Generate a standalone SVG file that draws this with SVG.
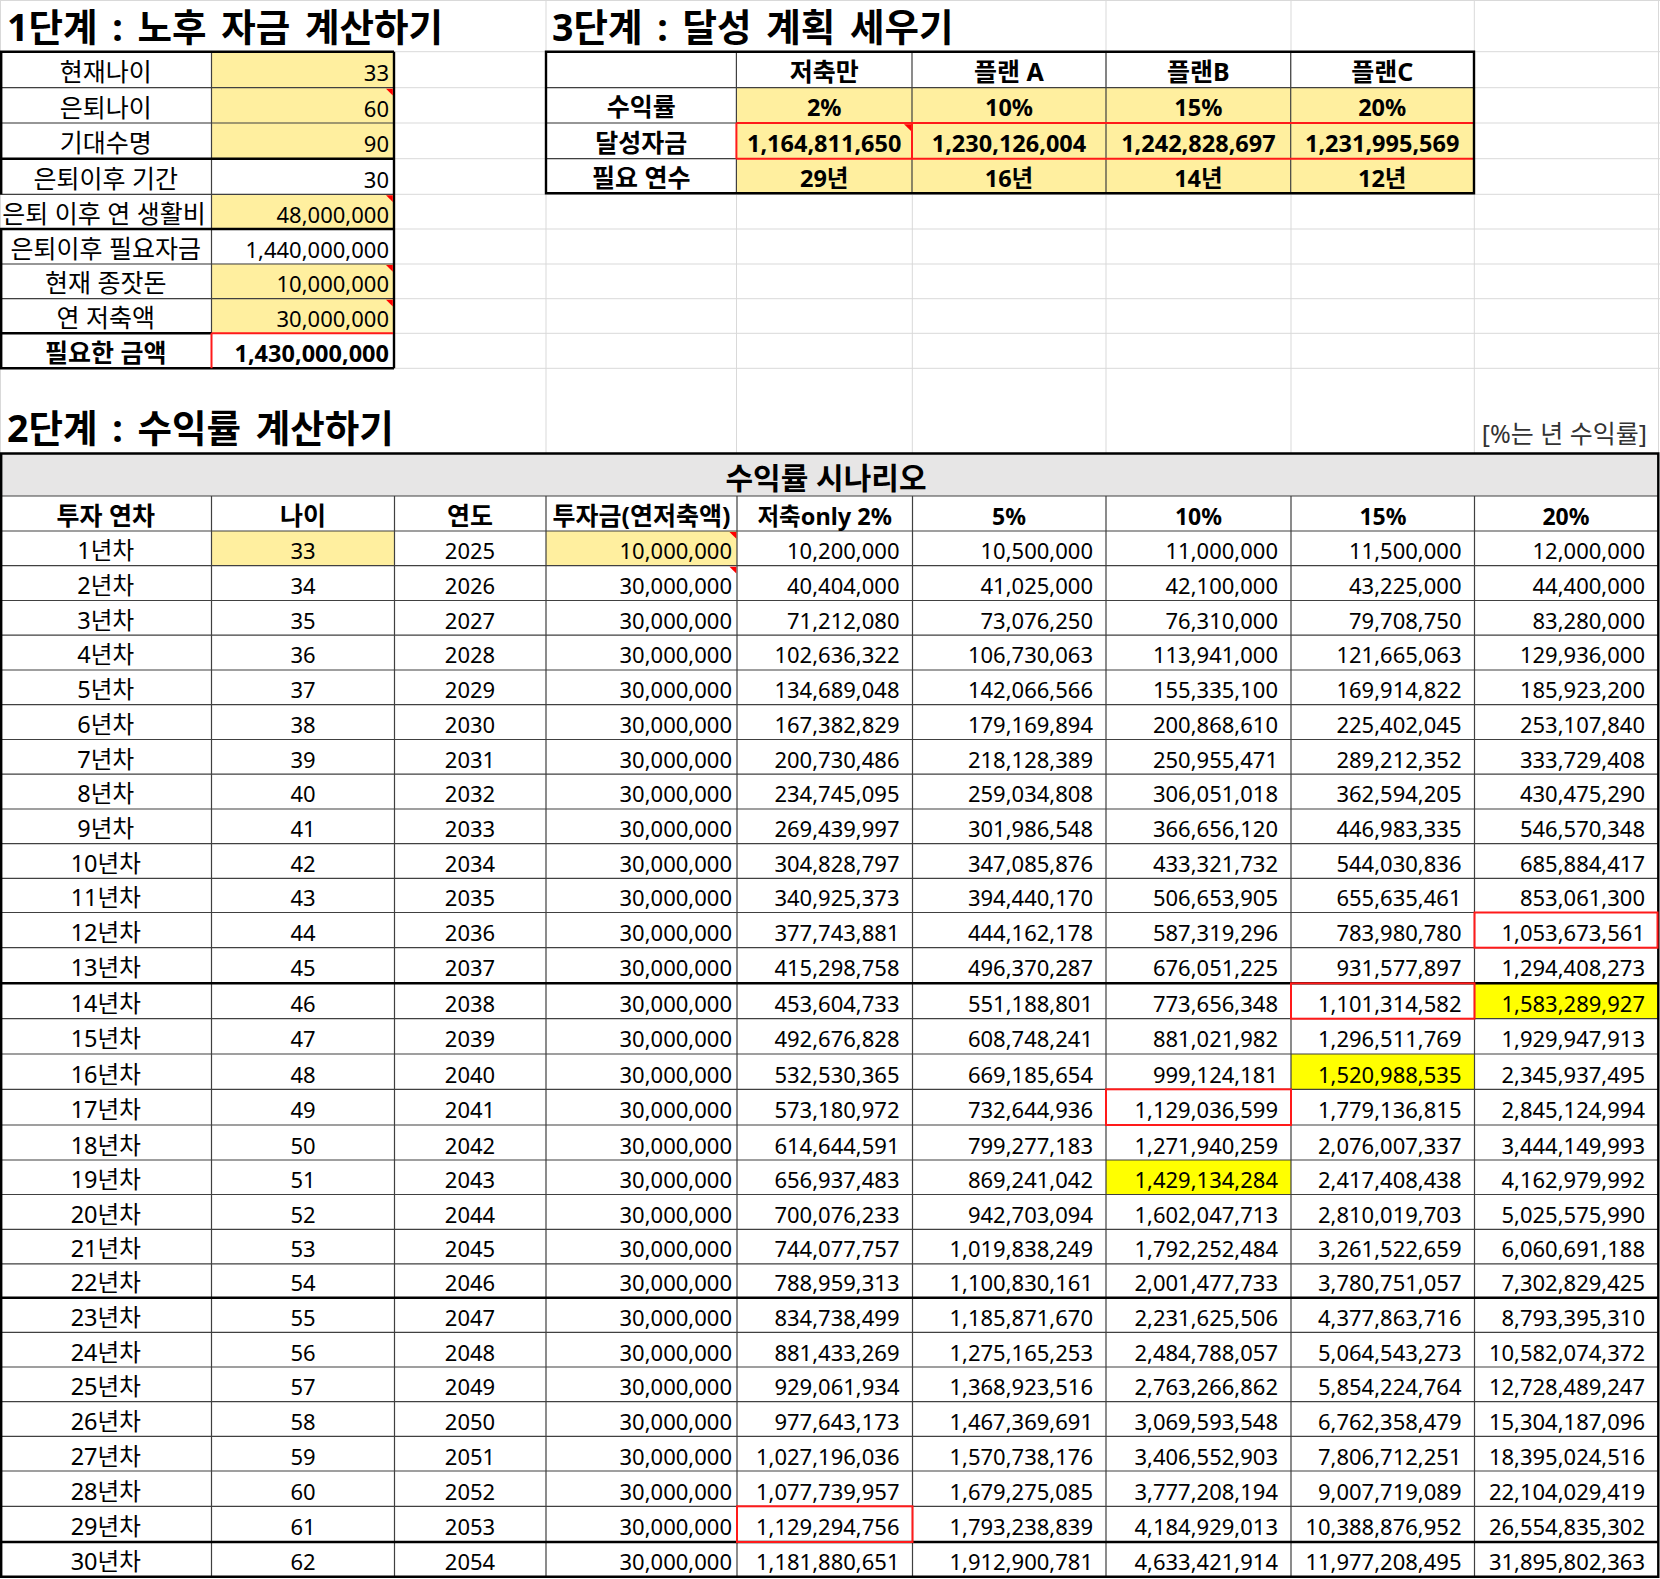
<svg xmlns="http://www.w3.org/2000/svg" width="1660" height="1579" viewBox="0 0 1660 1579">
<style>
text{font-family:"Noto Sans","Noto Sans CJK KR",sans-serif;fill:#000}
.n{font-size:22px}
.k{font-size:23.5px}
.k1{font-size:25px}
.kb{font-size:25px;font-weight:bold}
.hb{font-size:25px;font-weight:bold}
.t3{font-size:23.5px;font-weight:bold}
.t3k{font-size:25px;font-weight:bold}
.ttl{font-size:37.5px;font-weight:bold;word-spacing:5px}
.c{text-anchor:middle}
.r{text-anchor:end}
.g{stroke:#d9d9d9;stroke-width:1;fill:none}
.th{stroke:#404040;stroke-width:1.2;fill:none}
.tk{stroke:#000;stroke-width:2.4;fill:none}
.rd{stroke:#ff1a1a;stroke-width:2;fill:none}
.y{fill:#ffef9f}
.yy{fill:#ffff00}
.tri{fill:#ff0000}
</style>
<rect x="0" y="0" width="1660" height="1579" fill="#fff"/>

<g id="gridlines">
<path class="g" d="M0 0.5H1660M0 51.7H1660M0 87.7H1660M0 123H1660M0 158.7H1660M0 194.3H1660M0 229H1660M0 264H1660M0 298.7H1660M0 333.3H1660M0 368.3H1660"/>
<path class="g" d="M0.5 0V453M546 0V453M736.5 193V453M912.3 193V453M1106 0V453M1291 0V453M1474.3 0V453M1658.5 0V453"/>
</g>

<g id="fills">
<rect class="y" x="211.5" y="51.7" width="182.5" height="107"/>
<rect class="y" x="211.5" y="194.3" width="182.5" height="34.7"/>
<rect class="y" x="211.5" y="264" width="182.5" height="69.3"/>
<rect class="y" x="736.4" y="87.7" width="737.6" height="105.6"/>
<rect x="0" y="453" width="1658" height="43" fill="#e7e6e6"/>
<rect class="y" x="211.5" y="531" width="183" height="34.7"/>
<rect class="y" x="546" y="531" width="191" height="34.7"/>
<rect class="yy" x="1474.5" y="983.3" width="183.5" height="35.4"/>
<rect class="yy" x="1291" y="1054" width="183.5" height="35.3"/>
<rect class="yy" x="1106" y="1160" width="185" height="34.5"/>
</g>

<g id="connectors">
<path class="th" d="M0 87.7H394M0 123H394M0 194.3H394M0 264H394M0 298.7H394M211.5 51.7V333.3"/>
<path class="tk" d="M0 51.7H394M0 158.7H394M0 229H394M0 333.3H211.5M0 368.3H394M394 51.7V368.3M1.2 51.7V194.3M1.2 229V368.3"/>
<path class="rd" d="M211.5 333.3V368.3M211.5 333.3H393"/>
<path class="th" d="M546 87.7H1474M546 123H736.4M546 158.7H736.4M736.4 51.7V123M736.4 158.7V193.3M912 51.7V123M912 158.7V193.3M1106 51.7V193.3M1290.7 51.7V193.3"/>
<path class="rd" d="M736.4 123H1474M736.4 158.7H1474M736.4 123V158.7M912 123V158.7"/>
<path class="tk" d="M546 51.7H1474V193.3H546Z"/>
<path class="th" d="M0 496H1658M0 531H1658M0 565.7H1658M0 600.5H1658M0 635.2H1658M0 670H1658M0 704.7H1658M0 739.5H1658M0 774.2H1658M0 809H1658M0 843.7H1658M0 878.3H1658M0 912.5H1658M0 947.7H1658M0 1018.7H1658M0 1054H1658M0 1089.3H1658M0 1125H1658M0 1160H1658M0 1194.5H1658M0 1229.3H1658M0 1263.8H1658M0 1332.3H1658M0 1367H1658M0 1401.7H1658M0 1436.3H1658M0 1471H1658M0 1506.3H1658"/>
<path class="th" d="M211.5 496V1577M394.5 496V1577M546 496V1577M737 496V1577M912.5 496V1577M1106 496V1577M1291 496V1577M1474.5 496V1577"/>
<path class="tk" d="M0 983.3H1658M0 1297.7H1658M0 1542H1658"/>
<path class="tk" d="M1.2 453.5H1658.3V1576.8H1.2Z"/>
<rect class="rd" x="1474.5" y="912.5" width="183" height="35.2"/>
<rect class="rd" x="1291" y="983.3" width="183.5" height="35.4"/>
<rect class="rd" x="1106" y="1089.3" width="185" height="35.7"/>
<rect class="rd" x="737" y="1506.3" width="175.5" height="35.7"/>
</g>

<g id="comment-marks">
<polygon class="tri" points="386,88.7 392.8,88.7 392.8,95.5"/>
<polygon class="tri" points="386,195.3 392.8,195.3 392.8,202"/>
<polygon class="tri" points="386,265 392.8,265 392.8,271.8"/>
<polygon class="tri" points="386,299.7 392.8,299.7 392.8,306.5"/>
<polygon class="tri" points="904,124.2 911,124.2 911,131"/>
<polygon class="tri" points="729.5,532 736.3,532 736.3,538.8"/>
<polygon class="tri" points="729.5,566.7 736.3,566.7 736.3,573.5"/>
</g>

<g id="title-1"><text class="ttl" x="7" y="41">1단계 : 노후 자금 계산하기</text></g>
<g id="title-3"><text class="ttl" x="552" y="41">3단계 : 달성 계획 세우기</text></g>
<g id="title-2"><text class="ttl" x="7" y="442">2단계 : 수익률 계산하기</text></g>
<g id="note"><text class="k1 r" x="1647" y="443" style="fill:#333">[%는 년 수익률]</text></g>

<g id="table-1">
<text class="k1 c" x="105.7" y="81.2">현재나이</text><text class="n r" x="389" y="81.2">33</text>
<text class="k1 c" x="105.7" y="116.5">은퇴나이</text><text class="n r" x="389" y="116.5">60</text>
<text class="k1 c" x="105.7" y="152.2">기대수명</text><text class="n r" x="389" y="152.2">90</text>
<text class="k1 c" x="105.7" y="187.8">은퇴이후 기간</text><text class="n r" x="389" y="187.8">30</text>
<text class="k1 c" x="104" y="222.5">은퇴 이후 연 생활비</text><text class="n r" x="389" y="222.5">48,000,000</text>
<text class="k1 c" x="105.7" y="257.5">은퇴이후 필요자금</text><text class="n r" x="389" y="257.5">1,440,000,000</text>
<text class="k1 c" x="105.7" y="292.2">현재 종잣돈</text><text class="n r" x="389" y="292.2">10,000,000</text>
<text class="k1 c" x="105.7" y="326.8">연 저축액</text><text class="n r" x="389" y="326.8">30,000,000</text>
<text class="kb c" x="105.7" y="361.8">필요한 금액</text><text class="t3 r" x="389" y="361.8">1,430,000,000</text>
</g>

<g id="table-3">
<text class="t3k c" x="824.2" y="80.7">저축만</text>
<text class="t3k c" x="1009" y="80.7">플랜 A</text>
<text class="t3k c" x="1198.4" y="80.7">플랜B</text>
<text class="t3k c" x="1382.2" y="80.7">플랜C</text>
<text class="t3k c" x="641.2" y="116">수익률</text>
<text class="t3 c" x="824.2" y="116">2%</text>
<text class="t3 c" x="1009" y="116">10%</text>
<text class="t3 c" x="1198.4" y="116">15%</text>
<text class="t3 c" x="1382.2" y="116">20%</text>
<text class="t3k c" x="641.2" y="151.7">달성자금</text>
<text class="t3 c" x="824.2" y="151.7">1,164,811,650</text>
<text class="t3 c" x="1009" y="151.7">1,230,126,004</text>
<text class="t3 c" x="1198.4" y="151.7">1,242,828,697</text>
<text class="t3 c" x="1382.2" y="151.7">1,231,995,569</text>
<text class="t3k c" x="641.2" y="186.5">필요 연수</text>
<text class="t3 c" x="824.2" y="186.5">29년</text>
<text class="t3 c" x="1009" y="186.5">16년</text>
<text class="t3 c" x="1198.4" y="186.5">14년</text>
<text class="t3 c" x="1382.2" y="186.5">12년</text>
</g>

<g id="table-2-header">
<text class="c" x="826" y="488.5" style="font-size:30px;font-weight:bold">수익률 시나리오</text>
<text class="hb c" x="105.7" y="524.5">투자 연차</text>
<text class="hb c" x="303" y="524.5">나이</text>
<text class="hb c" x="470" y="524.5">연도</text>
<text class="hb c" x="641.5" y="524.5">투자금(연저축액)</text>
<text class="hb c" x="824.7" y="524.5" style="font-size:23.5px">저축only 2%</text>
<text class="hb c" x="1009" y="524.5" style="font-size:23px">5%</text>
<text class="hb c" x="1198.5" y="524.5" style="font-size:23px">10%</text>
<text class="hb c" x="1383" y="524.5" style="font-size:23px">15%</text>
<text class="hb c" x="1566" y="524.5" style="font-size:23px">20%</text>
</g>

<g id="row-1" transform="translate(0,531)"><text class="k c" x="105.7" y="28">1년차</text><text class="n c" x="303" y="28">33</text><text class="n c" x="470" y="28">2025</text><text class="n r" x="732" y="28">10,000,000</text><text class="n r" x="899.5" y="28">10,200,000</text><text class="n r" x="1093" y="28">10,500,000</text><text class="n r" x="1278" y="28">11,000,000</text><text class="n r" x="1461.5" y="28">11,500,000</text><text class="n r" x="1645" y="28">12,000,000</text></g>
<g id="row-2" transform="translate(0,565.7)"><text class="k c" x="105.7" y="28">2년차</text><text class="n c" x="303" y="28">34</text><text class="n c" x="470" y="28">2026</text><text class="n r" x="732" y="28">30,000,000</text><text class="n r" x="899.5" y="28">40,404,000</text><text class="n r" x="1093" y="28">41,025,000</text><text class="n r" x="1278" y="28">42,100,000</text><text class="n r" x="1461.5" y="28">43,225,000</text><text class="n r" x="1645" y="28">44,400,000</text></g>
<g id="row-3" transform="translate(0,600.5)"><text class="k c" x="105.7" y="28">3년차</text><text class="n c" x="303" y="28">35</text><text class="n c" x="470" y="28">2027</text><text class="n r" x="732" y="28">30,000,000</text><text class="n r" x="899.5" y="28">71,212,080</text><text class="n r" x="1093" y="28">73,076,250</text><text class="n r" x="1278" y="28">76,310,000</text><text class="n r" x="1461.5" y="28">79,708,750</text><text class="n r" x="1645" y="28">83,280,000</text></g>
<g id="row-4" transform="translate(0,635.2)"><text class="k c" x="105.7" y="28">4년차</text><text class="n c" x="303" y="28">36</text><text class="n c" x="470" y="28">2028</text><text class="n r" x="732" y="28">30,000,000</text><text class="n r" x="899.5" y="28">102,636,322</text><text class="n r" x="1093" y="28">106,730,063</text><text class="n r" x="1278" y="28">113,941,000</text><text class="n r" x="1461.5" y="28">121,665,063</text><text class="n r" x="1645" y="28">129,936,000</text></g>
<g id="row-5" transform="translate(0,670)"><text class="k c" x="105.7" y="28">5년차</text><text class="n c" x="303" y="28">37</text><text class="n c" x="470" y="28">2029</text><text class="n r" x="732" y="28">30,000,000</text><text class="n r" x="899.5" y="28">134,689,048</text><text class="n r" x="1093" y="28">142,066,566</text><text class="n r" x="1278" y="28">155,335,100</text><text class="n r" x="1461.5" y="28">169,914,822</text><text class="n r" x="1645" y="28">185,923,200</text></g>
<g id="row-6" transform="translate(0,704.7)"><text class="k c" x="105.7" y="28">6년차</text><text class="n c" x="303" y="28">38</text><text class="n c" x="470" y="28">2030</text><text class="n r" x="732" y="28">30,000,000</text><text class="n r" x="899.5" y="28">167,382,829</text><text class="n r" x="1093" y="28">179,169,894</text><text class="n r" x="1278" y="28">200,868,610</text><text class="n r" x="1461.5" y="28">225,402,045</text><text class="n r" x="1645" y="28">253,107,840</text></g>
<g id="row-7" transform="translate(0,739.5)"><text class="k c" x="105.7" y="28">7년차</text><text class="n c" x="303" y="28">39</text><text class="n c" x="470" y="28">2031</text><text class="n r" x="732" y="28">30,000,000</text><text class="n r" x="899.5" y="28">200,730,486</text><text class="n r" x="1093" y="28">218,128,389</text><text class="n r" x="1278" y="28">250,955,471</text><text class="n r" x="1461.5" y="28">289,212,352</text><text class="n r" x="1645" y="28">333,729,408</text></g>
<g id="row-8" transform="translate(0,774.2)"><text class="k c" x="105.7" y="28">8년차</text><text class="n c" x="303" y="28">40</text><text class="n c" x="470" y="28">2032</text><text class="n r" x="732" y="28">30,000,000</text><text class="n r" x="899.5" y="28">234,745,095</text><text class="n r" x="1093" y="28">259,034,808</text><text class="n r" x="1278" y="28">306,051,018</text><text class="n r" x="1461.5" y="28">362,594,205</text><text class="n r" x="1645" y="28">430,475,290</text></g>
<g id="row-9" transform="translate(0,809)"><text class="k c" x="105.7" y="28">9년차</text><text class="n c" x="303" y="28">41</text><text class="n c" x="470" y="28">2033</text><text class="n r" x="732" y="28">30,000,000</text><text class="n r" x="899.5" y="28">269,439,997</text><text class="n r" x="1093" y="28">301,986,548</text><text class="n r" x="1278" y="28">366,656,120</text><text class="n r" x="1461.5" y="28">446,983,335</text><text class="n r" x="1645" y="28">546,570,348</text></g>
<g id="row-10" transform="translate(0,843.7)"><text class="k c" x="105.7" y="28">10년차</text><text class="n c" x="303" y="28">42</text><text class="n c" x="470" y="28">2034</text><text class="n r" x="732" y="28">30,000,000</text><text class="n r" x="899.5" y="28">304,828,797</text><text class="n r" x="1093" y="28">347,085,876</text><text class="n r" x="1278" y="28">433,321,732</text><text class="n r" x="1461.5" y="28">544,030,836</text><text class="n r" x="1645" y="28">685,884,417</text></g>
<g id="row-11" transform="translate(0,878.3)"><text class="k c" x="105.7" y="28">11년차</text><text class="n c" x="303" y="28">43</text><text class="n c" x="470" y="28">2035</text><text class="n r" x="732" y="28">30,000,000</text><text class="n r" x="899.5" y="28">340,925,373</text><text class="n r" x="1093" y="28">394,440,170</text><text class="n r" x="1278" y="28">506,653,905</text><text class="n r" x="1461.5" y="28">655,635,461</text><text class="n r" x="1645" y="28">853,061,300</text></g>
<g id="row-12" transform="translate(0,912.5)"><text class="k c" x="105.7" y="28.5">12년차</text><text class="n c" x="303" y="28.5">44</text><text class="n c" x="470" y="28.5">2036</text><text class="n r" x="732" y="28.5">30,000,000</text><text class="n r" x="899.5" y="28.5">377,743,881</text><text class="n r" x="1093" y="28.5">444,162,178</text><text class="n r" x="1278" y="28.5">587,319,296</text><text class="n r" x="1461.5" y="28.5">783,980,780</text><text class="n r" x="1645" y="28.5">1,053,673,561</text></g>
<g id="row-13" transform="translate(0,947.7)"><text class="k c" x="105.7" y="28.5">13년차</text><text class="n c" x="303" y="28.5">45</text><text class="n c" x="470" y="28.5">2037</text><text class="n r" x="732" y="28.5">30,000,000</text><text class="n r" x="899.5" y="28.5">415,298,758</text><text class="n r" x="1093" y="28.5">496,370,287</text><text class="n r" x="1278" y="28.5">676,051,225</text><text class="n r" x="1461.5" y="28.5">931,577,897</text><text class="n r" x="1645" y="28.5">1,294,408,273</text></g>
<g id="row-14" transform="translate(0,983.3)"><text class="k c" x="105.7" y="29">14년차</text><text class="n c" x="303" y="29">46</text><text class="n c" x="470" y="29">2038</text><text class="n r" x="732" y="29">30,000,000</text><text class="n r" x="899.5" y="29">453,604,733</text><text class="n r" x="1093" y="29">551,188,801</text><text class="n r" x="1278" y="29">773,656,348</text><text class="n r" x="1461.5" y="29">1,101,314,582</text><text class="n r" x="1645" y="29">1,583,289,927</text></g>
<g id="row-15" transform="translate(0,1018.7)"><text class="k c" x="105.7" y="28.5">15년차</text><text class="n c" x="303" y="28.5">47</text><text class="n c" x="470" y="28.5">2039</text><text class="n r" x="732" y="28.5">30,000,000</text><text class="n r" x="899.5" y="28.5">492,676,828</text><text class="n r" x="1093" y="28.5">608,748,241</text><text class="n r" x="1278" y="28.5">881,021,982</text><text class="n r" x="1461.5" y="28.5">1,296,511,769</text><text class="n r" x="1645" y="28.5">1,929,947,913</text></g>
<g id="row-16" transform="translate(0,1054)"><text class="k c" x="105.7" y="28.5">16년차</text><text class="n c" x="303" y="28.5">48</text><text class="n c" x="470" y="28.5">2040</text><text class="n r" x="732" y="28.5">30,000,000</text><text class="n r" x="899.5" y="28.5">532,530,365</text><text class="n r" x="1093" y="28.5">669,185,654</text><text class="n r" x="1278" y="28.5">999,124,181</text><text class="n r" x="1461.5" y="28.5">1,520,988,535</text><text class="n r" x="1645" y="28.5">2,345,937,495</text></g>
<g id="row-17" transform="translate(0,1089.3)"><text class="k c" x="105.7" y="29">17년차</text><text class="n c" x="303" y="29">49</text><text class="n c" x="470" y="29">2041</text><text class="n r" x="732" y="29">30,000,000</text><text class="n r" x="899.5" y="29">573,180,972</text><text class="n r" x="1093" y="29">732,644,936</text><text class="n r" x="1278" y="29">1,129,036,599</text><text class="n r" x="1461.5" y="29">1,779,136,815</text><text class="n r" x="1645" y="29">2,845,124,994</text></g>
<g id="row-18" transform="translate(0,1125)"><text class="k c" x="105.7" y="28.5">18년차</text><text class="n c" x="303" y="28.5">50</text><text class="n c" x="470" y="28.5">2042</text><text class="n r" x="732" y="28.5">30,000,000</text><text class="n r" x="899.5" y="28.5">614,644,591</text><text class="n r" x="1093" y="28.5">799,277,183</text><text class="n r" x="1278" y="28.5">1,271,940,259</text><text class="n r" x="1461.5" y="28.5">2,076,007,337</text><text class="n r" x="1645" y="28.5">3,444,149,993</text></g>
<g id="row-19" transform="translate(0,1160)"><text class="k c" x="105.7" y="28">19년차</text><text class="n c" x="303" y="28">51</text><text class="n c" x="470" y="28">2043</text><text class="n r" x="732" y="28">30,000,000</text><text class="n r" x="899.5" y="28">656,937,483</text><text class="n r" x="1093" y="28">869,241,042</text><text class="n r" x="1278" y="28">1,429,134,284</text><text class="n r" x="1461.5" y="28">2,417,408,438</text><text class="n r" x="1645" y="28">4,162,979,992</text></g>
<g id="row-20" transform="translate(0,1194.5)"><text class="k c" x="105.7" y="28">20년차</text><text class="n c" x="303" y="28">52</text><text class="n c" x="470" y="28">2044</text><text class="n r" x="732" y="28">30,000,000</text><text class="n r" x="899.5" y="28">700,076,233</text><text class="n r" x="1093" y="28">942,703,094</text><text class="n r" x="1278" y="28">1,602,047,713</text><text class="n r" x="1461.5" y="28">2,810,019,703</text><text class="n r" x="1645" y="28">5,025,575,990</text></g>
<g id="row-21" transform="translate(0,1229.3)"><text class="k c" x="105.7" y="28">21년차</text><text class="n c" x="303" y="28">53</text><text class="n c" x="470" y="28">2045</text><text class="n r" x="732" y="28">30,000,000</text><text class="n r" x="899.5" y="28">744,077,757</text><text class="n r" x="1093" y="28">1,019,838,249</text><text class="n r" x="1278" y="28">1,792,252,484</text><text class="n r" x="1461.5" y="28">3,261,522,659</text><text class="n r" x="1645" y="28">6,060,691,188</text></g>
<g id="row-22" transform="translate(0,1263.8)"><text class="k c" x="105.7" y="27.5">22년차</text><text class="n c" x="303" y="27.5">54</text><text class="n c" x="470" y="27.5">2046</text><text class="n r" x="732" y="27.5">30,000,000</text><text class="n r" x="899.5" y="27.5">788,959,313</text><text class="n r" x="1093" y="27.5">1,100,830,161</text><text class="n r" x="1278" y="27.5">2,001,477,733</text><text class="n r" x="1461.5" y="27.5">3,780,751,057</text><text class="n r" x="1645" y="27.5">7,302,829,425</text></g>
<g id="row-23" transform="translate(0,1297.7)"><text class="k c" x="105.7" y="28.3">23년차</text><text class="n c" x="303" y="28.3">55</text><text class="n c" x="470" y="28.3">2047</text><text class="n r" x="732" y="28.3">30,000,000</text><text class="n r" x="899.5" y="28.3">834,738,499</text><text class="n r" x="1093" y="28.3">1,185,871,670</text><text class="n r" x="1278" y="28.3">2,231,625,506</text><text class="n r" x="1461.5" y="28.3">4,377,863,716</text><text class="n r" x="1645" y="28.3">8,793,395,310</text></g>
<g id="row-24" transform="translate(0,1332.3)"><text class="k c" x="105.7" y="28.3">24년차</text><text class="n c" x="303" y="28.3">56</text><text class="n c" x="470" y="28.3">2048</text><text class="n r" x="732" y="28.3">30,000,000</text><text class="n r" x="899.5" y="28.3">881,433,269</text><text class="n r" x="1093" y="28.3">1,275,165,253</text><text class="n r" x="1278" y="28.3">2,484,788,057</text><text class="n r" x="1461.5" y="28.3">5,064,543,273</text><text class="n r" x="1645" y="28.3">10,582,074,372</text></g>
<g id="row-25" transform="translate(0,1367)"><text class="k c" x="105.7" y="28.3">25년차</text><text class="n c" x="303" y="28.3">57</text><text class="n c" x="470" y="28.3">2049</text><text class="n r" x="732" y="28.3">30,000,000</text><text class="n r" x="899.5" y="28.3">929,061,934</text><text class="n r" x="1093" y="28.3">1,368,923,516</text><text class="n r" x="1278" y="28.3">2,763,266,862</text><text class="n r" x="1461.5" y="28.3">5,854,224,764</text><text class="n r" x="1645" y="28.3">12,728,489,247</text></g>
<g id="row-26" transform="translate(0,1401.7)"><text class="k c" x="105.7" y="28.3">26년차</text><text class="n c" x="303" y="28.3">58</text><text class="n c" x="470" y="28.3">2050</text><text class="n r" x="732" y="28.3">30,000,000</text><text class="n r" x="899.5" y="28.3">977,643,173</text><text class="n r" x="1093" y="28.3">1,467,369,691</text><text class="n r" x="1278" y="28.3">3,069,593,548</text><text class="n r" x="1461.5" y="28.3">6,762,358,479</text><text class="n r" x="1645" y="28.3">15,304,187,096</text></g>
<g id="row-27" transform="translate(0,1436.3)"><text class="k c" x="105.7" y="28.3">27년차</text><text class="n c" x="303" y="28.3">59</text><text class="n c" x="470" y="28.3">2051</text><text class="n r" x="732" y="28.3">30,000,000</text><text class="n r" x="899.5" y="28.3">1,027,196,036</text><text class="n r" x="1093" y="28.3">1,570,738,176</text><text class="n r" x="1278" y="28.3">3,406,552,903</text><text class="n r" x="1461.5" y="28.3">7,806,712,251</text><text class="n r" x="1645" y="28.3">18,395,024,516</text></g>
<g id="row-28" transform="translate(0,1471)"><text class="k c" x="105.7" y="28.5">28년차</text><text class="n c" x="303" y="28.5">60</text><text class="n c" x="470" y="28.5">2052</text><text class="n r" x="732" y="28.5">30,000,000</text><text class="n r" x="899.5" y="28.5">1,077,739,957</text><text class="n r" x="1093" y="28.5">1,679,275,085</text><text class="n r" x="1278" y="28.5">3,777,208,194</text><text class="n r" x="1461.5" y="28.5">9,007,719,089</text><text class="n r" x="1645" y="28.5">22,104,029,419</text></g>
<g id="row-29" transform="translate(0,1506.3)"><text class="k c" x="105.7" y="29">29년차</text><text class="n c" x="303" y="29">61</text><text class="n c" x="470" y="29">2053</text><text class="n r" x="732" y="29">30,000,000</text><text class="n r" x="899.5" y="29">1,129,294,756</text><text class="n r" x="1093" y="29">1,793,238,839</text><text class="n r" x="1278" y="29">4,184,929,013</text><text class="n r" x="1461.5" y="29">10,388,876,952</text><text class="n r" x="1645" y="29">26,554,835,302</text></g>
<g id="row-30" transform="translate(0,1542)"><text class="k c" x="105.7" y="28.2">30년차</text><text class="n c" x="303" y="28.2">62</text><text class="n c" x="470" y="28.2">2054</text><text class="n r" x="732" y="28.2">30,000,000</text><text class="n r" x="899.5" y="28.2">1,181,880,651</text><text class="n r" x="1093" y="28.2">1,912,900,781</text><text class="n r" x="1278" y="28.2">4,633,421,914</text><text class="n r" x="1461.5" y="28.2">11,977,208,495</text><text class="n r" x="1645" y="28.2">31,895,802,363</text></g>
</svg>
